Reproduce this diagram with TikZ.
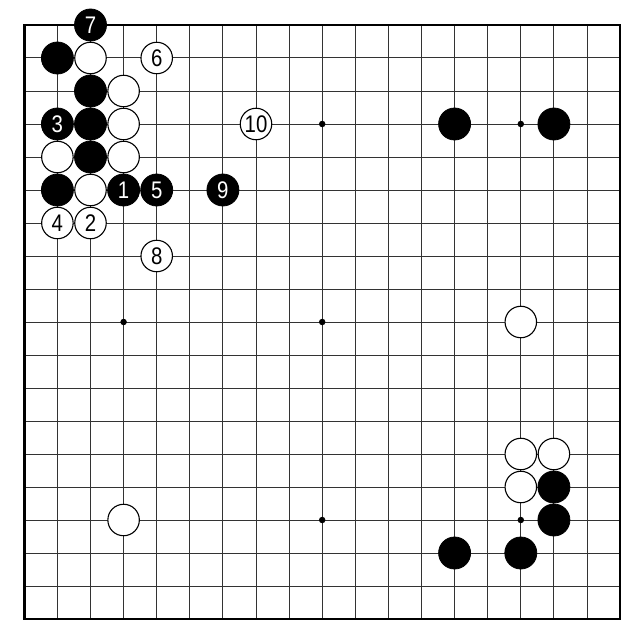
\documentclass[tikz,border=0pt]{standalone}
\usepackage{graphicx}
\usepackage{fontspec}
\setmainfont{Liberation Sans}
\newcommand\nm[1]{{\fontsize{24}{24}\selectfont\scalebox{0.85}[1]{#1}}}
\tikzset{
  gridline/.style={line width=1pt, black!80},
  boardframe/.style={line width=2.4pt, black},
  bstone/.style={circle, fill=black, draw=black, line width=0.8pt, minimum size=32pt, inner sep=0pt, text=white},
  wstone/.style={circle, fill=white, draw=black, line width=1.1pt, minimum size=31.5pt, inner sep=0pt, text=black},
  hoshi/.style={circle, fill=black, minimum size=6.5pt, inner sep=0pt}
}
\newcommand\bst[4]{\node[bstone] (#1) at ({24.3+33.1*#2},{25+33*#3}) {\nm{#4}};}
\newcommand\wst[4]{\node[wstone] (#1) at ({24.3+33.1*#2},{25+33*#3}) {\nm{#4}};}
\begin{document}
\begin{tikzpicture}[x=1pt,y=-1pt]
\useasboundingbox[fill=white] (0,0) rectangle (640,642);
% grid
\foreach \i in {1,...,17}{
  \draw[gridline] ({24.3+33.1*\i},25) -- ({24.3+33.1*\i},619);
  \draw[gridline] (24.3,{25+33*\i}) -- (620.1,{25+33*\i});
}
\draw[boardframe] (24.3,25) rectangle (620.1,619);
% star points
\foreach \c in {3,9,15}{
  \foreach \r in {3,9,15}{
    \node[hoshi] (h\c\r) at ({24.3+33.1*\c},{25+33*\r}) {};
  }
}
% black stones
\bst{b7}{2}{0}{7}
\bst{ba}{1}{1}{}
\bst{bb}{2}{2}{}
\bst{b3}{1}{3}{3}
\bst{bc}{2}{3}{}
\bst{bd}{2}{4}{}
\bst{be}{1}{5}{}
\bst{b1}{3}{5}{1}
\bst{b5}{4}{5}{5}
\bst{b9}{6}{5}{9}
\bst{bf}{13}{3}{}
\bst{bg}{16}{3}{}
\bst{bh}{16}{14}{}
\bst{bi}{16}{15}{}
\bst{bj}{13}{16}{}
\bst{bk}{15}{16}{}
% white stones
\wst{wa}{2}{1}{}
\wst{w6}{4}{1}{6}
\wst{wb}{3}{2}{}
\wst{wc}{3}{3}{}
\wst{w10}{7}{3}{10}
\wst{wd}{1}{4}{}
\wst{we}{3}{4}{}
\wst{wf}{2}{5}{}
\wst{w4}{1}{6}{4}
\wst{w2}{2}{6}{2}
\wst{w8}{4}{7}{8}
\wst{wg}{15}{9}{}
\wst{wh}{15}{13}{}
\wst{wi}{16}{13}{}
\wst{wj}{15}{14}{}
\wst{wk}{3}{15}{}
\end{tikzpicture}
\end{document}
